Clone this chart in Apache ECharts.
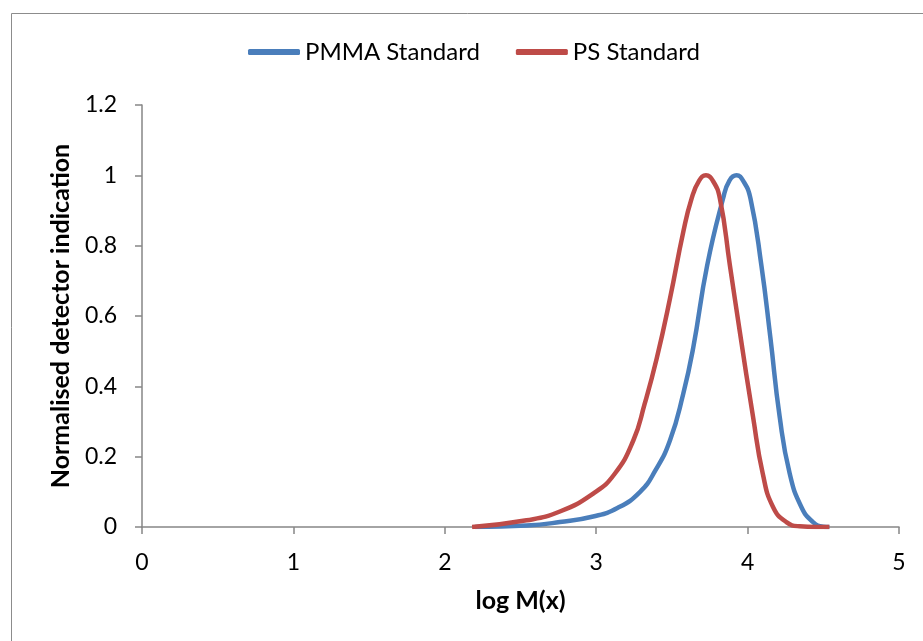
<!DOCTYPE html>
<html>
<head>
<meta charset="utf-8">
<script src="https://cdn.jsdelivr.net/npm/echarts@6/dist/echarts.min.js"></script>
<style>html,body{margin:0;padding:0;background:#fff}#c{width:923px;height:641px}</style>
</head>
<body>
<div id="c"></div>
<script>
const seriesNames = ["PMMA Standard", "PS Standard"];
const xTicks = [0, 1, 2, 3, 4, 5];
const yTicks = [0, 0.2, 0.4, 0.6, 0.8, 1, 1.2];
const pmmaX = [2.2, 2.54, 2.76, 2.98, 3.14, 3.29, 3.39, 3.487, 3.575, 3.641, 3.733, 3.838, 3.88, 3.927, 3.97, 4.019, 4.091, 4.15, 4.212, 4.278, 4.355, 4.432, 4.5, 4.54];
const pmmaY = [0, 0.004, 0.014, 0.03, 0.054, 0.1, 0.16, 0.246, 0.379, 0.51, 0.744, 0.934, 0.985, 1.0, 0.985, 0.934, 0.744, 0.54, 0.313, 0.152, 0.057, 0.014, 0.001, 0];
const psX = [2.18, 2.54, 2.76, 2.98, 3.12, 3.245, 3.32, 3.40, 3.487, 3.575, 3.63, 3.68, 3.725, 3.77, 3.817, 3.883, 3.949, 4.036, 4.10, 4.168, 4.256, 4.344, 4.45, 4.54];
const psY = [0, 0.019, 0.044, 0.095, 0.15, 0.246, 0.35, 0.48, 0.649, 0.839, 0.934, 0.985, 1.0, 0.985, 0.934, 0.744, 0.554, 0.313, 0.152, 0.057, 0.014, 0.002, 0, 0];

const font = "Lato, 'Open Sans', sans-serif";
const chart = echarts.init(document.getElementById('c'));
chart.setOption({
  animation: false,
  backgroundColor: '#fff',
  graphic: [{
    type: 'rect', left: 9, top: 11, shape: {width: 930, height: 650},
    style: {fill: 'none', stroke: '#8c8c8c', lineWidth: 1}, silent: true
  }],
  legend: {
    top: 35, left: 243, itemWidth: 52, itemHeight: 6, itemGap: 36,
    textStyle: {fontFamily: font, fontSize: 24, color: '#000'},
    data: seriesNames.map(n => ({name: n, icon: 'roundRect'}))
  },
  grid: {left: 142, top: 105, width: 757, height: 422, containLabel: false},
  xAxis: {
    type: 'value', min: 0, max: 5, interval: 1,
    name: 'log M(x)', nameLocation: 'middle', nameGap: 61,
    nameTextStyle: {fontFamily: font, fontSize: 25, fontWeight: 'bold', color: '#000'},
    axisLine: {show: true, lineStyle: {color: '#868686', width: 1.5}},
    axisTick: {show: true, length: 7, lineStyle: {color: '#868686', width: 1.5}},
    axisLabel: {margin: 24, fontFamily: font, fontSize: 23, color: '#000', formatter: v => xTicks.includes(v) ? String(v) : ''},
    splitLine: {show: false}
  },
  yAxis: {
    type: 'value', min: 0, max: 1.2, interval: 0.2,
    name: 'Normalised detector indication', nameLocation: 'middle', nameGap: 69,
    nameTextStyle: {fontFamily: font, fontSize: 25, fontWeight: 'bold', color: '#000'},
    axisLine: {show: true, lineStyle: {color: '#868686', width: 1.5}},
    axisTick: {show: true, length: 7, lineStyle: {color: '#868686', width: 1.5}},
    axisLabel: {margin: 25, fontFamily: font, fontSize: 23, color: '#000',
      formatter: v => { const t = yTicks.find(k => Math.abs(k - v) < 1e-9); return t === undefined ? '' : String(t); }},
    splitLine: {show: false}
  },
  series: [
    {name: seriesNames[0], type: 'line', smooth: 0.5, showSymbol: false, symbol: 'none',
      lineStyle: {color: '#4a7ebb', width: 4.5}, itemStyle: {color: '#4a7ebb'},
      data: pmmaX.map((x, i) => [x, pmmaY[i]])},
    {name: seriesNames[1], type: 'line', smooth: 0.5, showSymbol: false, symbol: 'none',
      lineStyle: {color: '#be4b48', width: 4.5}, itemStyle: {color: '#be4b48'},
      data: psX.map((x, i) => [x, psY[i]])}
  ]
});
</script>
</body>
</html>
